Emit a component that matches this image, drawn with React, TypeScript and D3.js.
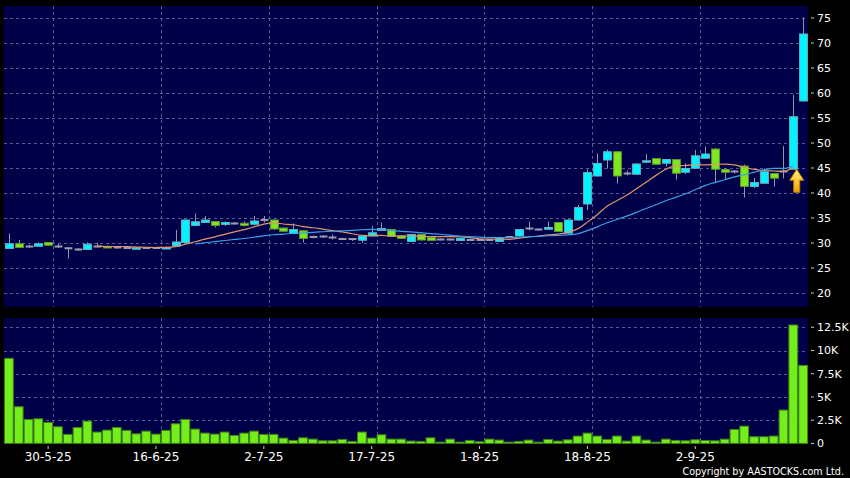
import { useEffect, useRef } from "react"
import * as d3 from "d3"

// trading days shown on the chart
const dates = [
  "26-5-25", "27-5-25", "28-5-25", "29-5-25", "30-5-25",
  "2-6-25", "3-6-25", "4-6-25", "5-6-25", "6-6-25", "9-6-25", "10-6-25", "11-6-25", "12-6-25", "13-6-25",
  "16-6-25", "17-6-25", "18-6-25", "19-6-25", "20-6-25", "23-6-25", "24-6-25", "25-6-25", "26-6-25", "27-6-25", "30-6-25",
  "2-7-25", "3-7-25", "4-7-25", "7-7-25", "8-7-25", "9-7-25", "10-7-25", "11-7-25", "14-7-25", "15-7-25", "16-7-25",
  "17-7-25", "18-7-25", "21-7-25", "22-7-25", "23-7-25", "24-7-25", "25-7-25", "28-7-25", "29-7-25", "30-7-25", "31-7-25",
  "1-8-25", "4-8-25", "5-8-25", "6-8-25", "7-8-25", "8-8-25", "11-8-25", "12-8-25", "13-8-25", "14-8-25", "15-8-25",
  "18-8-25", "19-8-25", "20-8-25", "21-8-25", "22-8-25", "25-8-25", "26-8-25", "27-8-25", "28-8-25", "29-8-25", "1-9-25",
  "2-9-25", "3-9-25", "4-9-25", "5-9-25", "8-9-25", "9-9-25", "10-9-25", "11-9-25", "12-9-25", "15-9-25", "16-9-25",
  "17-9-25",
]

const opens = [
  28.9, 29.85, 29.3, 29.35, 30.1, 29.3, 28.95, 28.7, 28.7, 29.3,
  29.3, 29.1, 29.0, 29.0, 29.0, 29.0, 29.0, 29.4, 30.1, 33.5,
  34.1, 34.3, 33.7, 33.9, 33.95, 33.75, 34.6, 34.6, 33.0, 31.9,
  32.45, 31.2, 31.3, 31.1, 30.8, 30.8, 30.55, 31.4, 32.5, 32.7,
  31.45, 30.3, 31.7, 31.1, 30.7, 30.7, 30.5, 30.6, 30.6, 30.6,
  30.3, 31.2, 31.4, 32.9, 32.7, 32.75, 34.1, 31.95, 34.6, 37.8,
  43.4, 46.6, 48.25, 43.9, 43.75, 46.15, 46.9, 45.95, 46.7, 44.15,
  44.95, 46.95, 48.8, 44.7, 44.3, 45.4, 41.3, 41.95, 43.9, 44.3,
  44.75, 58.4,
]
const highs = [
  31.9, 30.6, 29.6, 30.1, 30.2, 29.8, 29.1, 29.0, 30.1, 30.05,
  29.5, 29.3, 29.2, 29.2, 29.1, 29.1, 29.3, 32.6, 34.7, 35.9,
  35.4, 34.4, 34.3, 34.2, 34.3, 35.4, 35.4, 34.7, 33.1, 33.9,
  32.5, 31.5, 31.5, 31.7, 31.0, 31.0, 31.5, 33.4, 34.1, 32.8,
  31.6, 31.8, 31.8, 31.3, 30.9, 30.9, 31.0, 30.8, 30.8, 30.8,
  31.3, 31.4, 32.8, 34.3, 32.9, 34.3, 34.2, 34.7, 37.6, 44.7,
  47.9, 48.7, 48.4, 44.5, 46.0, 47.8, 47.0, 46.8, 46.8, 45.9,
  48.6, 49.3, 49.0, 44.9, 44.6, 45.7, 43.0, 44.9, 44.0, 49.4,
  59.6, 75.1,
]
const lows = [
  28.85, 29.0, 29.0, 29.3, 29.5, 29.0, 26.9, 28.4, 28.6, 29.1,
  29.1, 28.9, 28.8, 28.9, 28.8, 28.9, 28.9, 29.3, 30.0, 33.4,
  34.0, 33.1, 33.4, 33.7, 33.3, 33.6, 34.1, 32.6, 32.2, 31.8,
  30.1, 30.9, 31.0, 30.7, 30.6, 30.4, 30.0, 31.3, 32.4, 31.2,
  30.8, 30.2, 30.5, 30.4, 30.5, 30.5, 30.4, 30.4, 30.4, 30.4,
  30.2, 31.0, 31.3, 32.5, 32.5, 32.7, 32.2, 31.9, 34.5, 36.6,
  43.3, 44.9, 41.9, 43.5, 43.6, 46.0, 45.6, 45.3, 42.7, 43.8,
  44.8, 46.8, 42.1, 42.6, 43.9, 39.1, 41.0, 41.9, 41.3, 42.9,
  44.7, 58.3,
]
const closes = [
  29.85, 29.1, 29.3, 29.85, 29.55, 29.3, 28.95, 28.7, 29.75, 29.3,
  29.2, 29.1, 29.0, 29.05, 29.0, 29.0, 29.1, 30.2, 34.6, 34.25,
  34.6, 33.5, 34.1, 33.9, 33.5, 34.4, 34.6, 32.8, 32.35, 32.7,
  30.9, 31.2, 31.3, 31.1, 30.8, 30.8, 31.4, 32.05, 32.9, 31.3,
  30.9, 31.7, 30.6, 30.5, 30.7, 30.7, 30.9, 30.6, 30.6, 30.6,
  31.05, 31.2, 32.7, 32.9, 32.7, 33.1, 32.3, 34.6, 37.1, 44.1,
  45.9, 48.25, 43.4, 43.9, 45.8, 46.45, 45.75, 46.7, 43.95, 44.9,
  47.45, 47.8, 44.75, 44.15, 44.3, 41.3, 42.1, 44.25, 42.95, 44.3,
  55.25, 71.8,
]
const volumes = [
  9160, 3950, 2580, 2650, 2260, 1790, 970, 1720, 2400, 1220,
  1430, 1720, 1400, 1030, 1320, 1000, 1400, 2110, 2580, 1540,
  1110, 1000, 1220, 860, 1110, 1320, 970, 970, 570, 320,
  600, 460, 280, 280, 430, 220, 1220, 570, 930, 460,
  460, 250, 220, 600, 140, 460, 140, 320, 180, 460,
  360, 140, 220, 360, 140, 430, 250, 390, 790, 1110,
  790, 430, 790, 250, 790, 360, 140, 460, 320, 280,
  390, 320, 280, 460, 1500, 1860, 720, 720, 790, 3590,
  12750, 8400,
]

const maPeriods = [10, 20]
const maColors = ["#e0946a", "#3c9fe6"]
const priceTicks = [20, 25, 30, 35, 40, 45, 50, 55, 60, 65, 70, 75]
const volumeTicks = [0, 2500, 5000, 7500, 10000, 12500]
const volumeTickLabels = ["0", "2.5K", "5K", "7.5K", "10K", "12.5K"]
const dateTicks = ["30-5-25", "16-6-25", "2-7-25", "17-7-25", "1-8-25", "18-8-25", "2-9-25"]

export default function App() {
  const svgRef = useRef(null)

  useEffect(() => {
    if (!svgRef.current) return
    const svg = d3.select(svgRef.current)
    svg.selectAll("*").remove()

    const width = 850
    const height = 478
    const left = 4
    const right = 808
    const priceTop = 6
    const priceBottom = 307
    const volTop = 318
    const volBottom = 444
    const font = "DejaVu Sans, Verdana, sans-serif"
    const gridColor = "#5a5a90"
    const panelColor = "#000048"

    const n = dates.length
    const idx = d3.range(n)
    const x = d3.scaleBand().domain(idx.map(String)).range([left, right]).padding(0)
    const bw = x.bandwidth()
    const cx = (i) => x(String(i)) + bw / 2

    const y = d3.scaleLinear().domain([17.2, 77.4]).range([priceBottom, priceTop])
    const yv = d3.scaleLinear().domain([0, 13500]).range([volBottom - 0.6, volTop])

    svg.append("rect").attr("width", width).attr("height", height).attr("fill", "#000")

    // panels
    svg.append("rect").attr("x", left).attr("y", priceTop).attr("width", right - left).attr("height", priceBottom - priceTop).attr("fill", panelColor)
    svg.append("rect").attr("x", left).attr("y", volTop).attr("width", right - left).attr("height", volBottom - volTop).attr("fill", panelColor)

    // grid
    const grid = svg.append("g").attr("stroke", gridColor).attr("stroke-width", 1).attr("stroke-dasharray", "3,3")
    grid.selectAll(".hp").data(priceTicks).enter().append("line")
      .attr("x1", left).attr("x2", right)
      .attr("y1", (d) => Math.round(y(d)) + 0.5).attr("y2", (d) => Math.round(y(d)) + 0.5)
    grid.selectAll(".hv").data(volumeTicks.slice(1)).enter().append("line")
      .attr("x1", left).attr("x2", right)
      .attr("y1", (d) => Math.round(yv(d)) + 0.5).attr("y2", (d) => Math.round(yv(d)) + 0.5)
    const tickIdx = dateTicks.map((t) => dates.indexOf(t))
    tickIdx.forEach((i) => {
      const gx = Math.round(x(String(i)) + bw) + 0.5
      grid.append("line").attr("x1", gx).attr("x2", gx).attr("y1", priceTop).attr("y2", priceBottom)
      grid.append("line").attr("x1", gx).attr("x2", gx).attr("y1", volTop).attr("y2", volBottom)
    })

    // candles
    const bodyW = bw * 0.8
    const candles = svg.append("g")
    idx.forEach((i) => {
      const o = opens[i], c = closes[i], h = highs[i], l = lows[i]
      const xc = Math.round(cx(i)) + 0.5
      candles.append("line")
        .attr("x1", xc).attr("x2", xc).attr("y1", y(h)).attr("y2", y(l))
        .attr("stroke", "#8e98aa").attr("stroke-width", 1)
      if (o === c) {
        candles.append("line")
          .attr("x1", xc - bodyW / 2).attr("x2", xc + bodyW / 2)
          .attr("y1", y(c)).attr("y2", y(c))
          .attr("stroke", "#9c9cae").attr("stroke-width", 2)
      } else {
        const up = c > o
        candles.append("rect")
          .attr("x", xc - bodyW / 2).attr("width", bodyW)
          .attr("y", y(Math.max(o, c))).attr("height", Math.max(1.5, Math.abs(y(o) - y(c))))
          .attr("fill", up ? "#00f4ff" : "#7ee81e")
          .attr("stroke", up ? "#6aaebe" : "#5d9632").attr("stroke-width", 1)
      }
    })

    // moving averages (last session not averaged)
    maPeriods.forEach((p, k) => {
      const pts = idx
        .filter((i) => i >= p - 1 && i < n - 1)
        .map((i) => [cx(i), y(d3.mean(closes.slice(i - p + 1, i + 1)))])
      svg.append("path")
        .attr("d", d3.line().curve(d3.curveMonotoneX)(pts))
        .attr("fill", "none").attr("stroke", maColors[k]).attr("stroke-width", 1.2)
    })

    // arrow marker at last averaged session
    const defs = svg.append("defs")
    const grad = defs.append("linearGradient").attr("id", "arrowGrad").attr("x1", 0).attr("x2", 0).attr("y1", 0).attr("y2", 1)
    grad.append("stop").attr("offset", "0%").attr("stop-color", "#fff27a")
    grad.append("stop").attr("offset", "100%").attr("stop-color", "#f0a400")
    const ai = n - 2
    svg.append("path")
      .attr("transform", `translate(${x(String(ai)) + bw * 0.85},${y(opens[ai])})`)
      .attr("d", "M0,0 L7,11 L3,11 L3,23 L-3,23 L-3,11 L-7,11 Z")
      .attr("fill", "url(#arrowGrad)").attr("stroke", "#c77a00").attr("stroke-width", 1)

    // volume bars
    svg.append("g").selectAll("rect").data(volumes).enter().append("rect")
      .attr("x", (d, i) => x(String(i)) + 0.5)
      .attr("width", bw - 1)
      .attr("y", (d) => yv(d))
      .attr("height", (d) => yv(0) - yv(d))
      .attr("fill", "#74ee1a").attr("stroke", "#3e7e16").attr("stroke-width", 1)

    // right axes
    const axisText = svg.append("g").attr("fill", "#fff").attr("font-family", font).attr("font-size", 11)
    priceTicks.forEach((t) => {
      axisText.append("line").attr("x1", 811).attr("x2", 814).attr("y1", y(t)).attr("y2", y(t)).attr("stroke", "#ccc")
      axisText.append("text").attr("x", 817).attr("y", y(t)).attr("dy", "0.36em").text(t)
    })
    volumeTicks.forEach((t, k) => {
      axisText.append("line").attr("x1", 811).attr("x2", 814).attr("y1", yv(t)).attr("y2", yv(t)).attr("stroke", "#ccc")
      axisText.append("text").attr("x", 817).attr("y", yv(t)).attr("dy", "0.36em").text(volumeTickLabels[k])
    })

    // date axis
    tickIdx.forEach((i, k) => {
      axisText.append("line").attr("x1", cx(i)).attr("x2", cx(i)).attr("y1", volBottom + 2).attr("y2", volBottom + 5).attr("stroke", "#ccc")
      axisText.append("text").attr("x", cx(i)).attr("y", 461).attr("text-anchor", "middle").attr("font-size", 12).text(dateTicks[k])
    })

    svg.append("text")
      .attr("x", 844).attr("y", 475).attr("text-anchor", "end")
      .attr("font-family", font).attr("font-size", 9.6).attr("fill", "#fff")
      .text("Copyright by AASTOCKS.com Ltd.")

    svg.attr("width", width).attr("height", height).attr("viewBox", [0, 0, width, height])
  }, [])

  return (
    <div style={{ position: "absolute", left: 0, top: 0, background: "#000" }}>
      <svg ref={svgRef} style={{ display: "block" }}></svg>
    </div>
  )
}
